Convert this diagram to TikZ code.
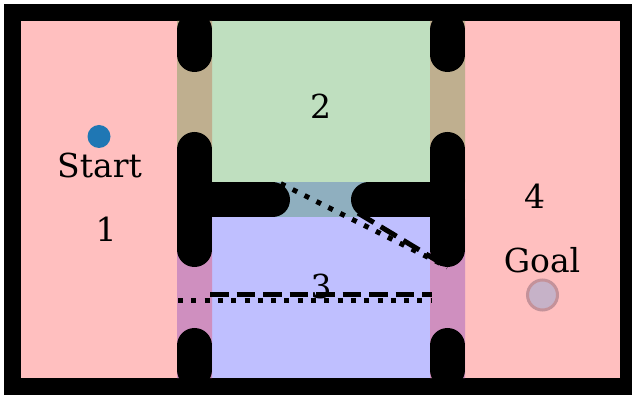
\documentclass[tikz,border=0pt]{standalone}
\usepackage{fontspec}
\setmainfont{DejaVu Serif}
\definecolor{roompink}{RGB}{255,191,191}
\definecolor{roomgreen}{RGB}{191,223,191}
\definecolor{roomblue}{RGB}{191,191,255}
\definecolor{doortan}{RGB}{191,175,143}
\definecolor{doorpurple}{RGB}{207,143,191}
\definecolor{doorslate}{RGB}{143,175,191}
\definecolor{startblue}{RGB}{31,119,180}
\definecolor{goalfill}{RGB}{198,178,200}
\definecolor{goaledge}{RGB}{196,146,154}
\begin{document}
\begin{tikzpicture}[x=1pt,y=-1pt,
  wall/.style={line width=35pt,line cap=round},
  dotline/.style={line width=5pt,dash pattern=on 5pt off 8.3pt},
  dashline/.style={line width=5pt,dash pattern=on 18.5pt off 8pt},
  lbl/.style={font=\fontsize{33}{40}\selectfont,anchor=base,inner sep=0pt}]
\useasboundingbox (0,0) rectangle (632,395);
% frame and rooms
\fill[black] (4,4) rectangle (632,395);
\fill[roompink] (21,21) rectangle (620,378);
\fill[roomgreen] (212,21) rectangle (430,182.5);
\fill[doorslate] (212,182.5) rectangle (430,217.5);
\fill[roomblue] (212,217.5) rectangle (430,378);
\fill[doortan] (177,21) rectangle (212,182.5) (430,21) rectangle (465,182.5);
\fill[doorpurple] (177,217.5) rectangle (212,378) (430,217.5) rectangle (465,378);
% paths
\draw[dotline] (280.8,183.6) -- (447.5,267);
\draw[dashline] (358,213) -- (447.5,267);
\draw[dashline] (210,294.7) -- (432,294.7);
\draw[dotline] (178,300.5) -- (432,300.5);
% walls
\draw[wall] (194.5,30) -- (194.5,54.5);
\draw[wall] (194.5,149.5) -- (194.5,249.5);
\draw[wall] (194.5,345.5) -- (194.5,370);
\draw[wall] (447.5,30) -- (447.5,54.5);
\draw[wall] (447.5,149.5) -- (447.5,249.5);
\draw[wall] (447.5,345.5) -- (447.5,370);
\draw[wall] (194.5,200) -- (272.5,200);
\draw[wall] (368.5,200) -- (447.5,200);
% start and goal
\node[circle,fill=startblue,inner sep=0pt,minimum size=23pt] (startdot) at (99,136.5) {};
\node[circle,draw=goaledge,fill=goalfill,line width=3pt,inner sep=0pt,minimum size=30pt] (goaldot) at (542.5,295) {};
% labels
\node[lbl] (start) at (99.5,178) {Start};
\node[lbl] (r1) at (106,242) {1};
\node[lbl] (r2) at (320.5,119) {2};
\node[lbl] (r3) at (321,299) {3};
\node[lbl] (r4) at (534.5,209) {4};
\node[lbl] (goal) at (542,272.5) {Goal};
\end{tikzpicture}
\end{document}
